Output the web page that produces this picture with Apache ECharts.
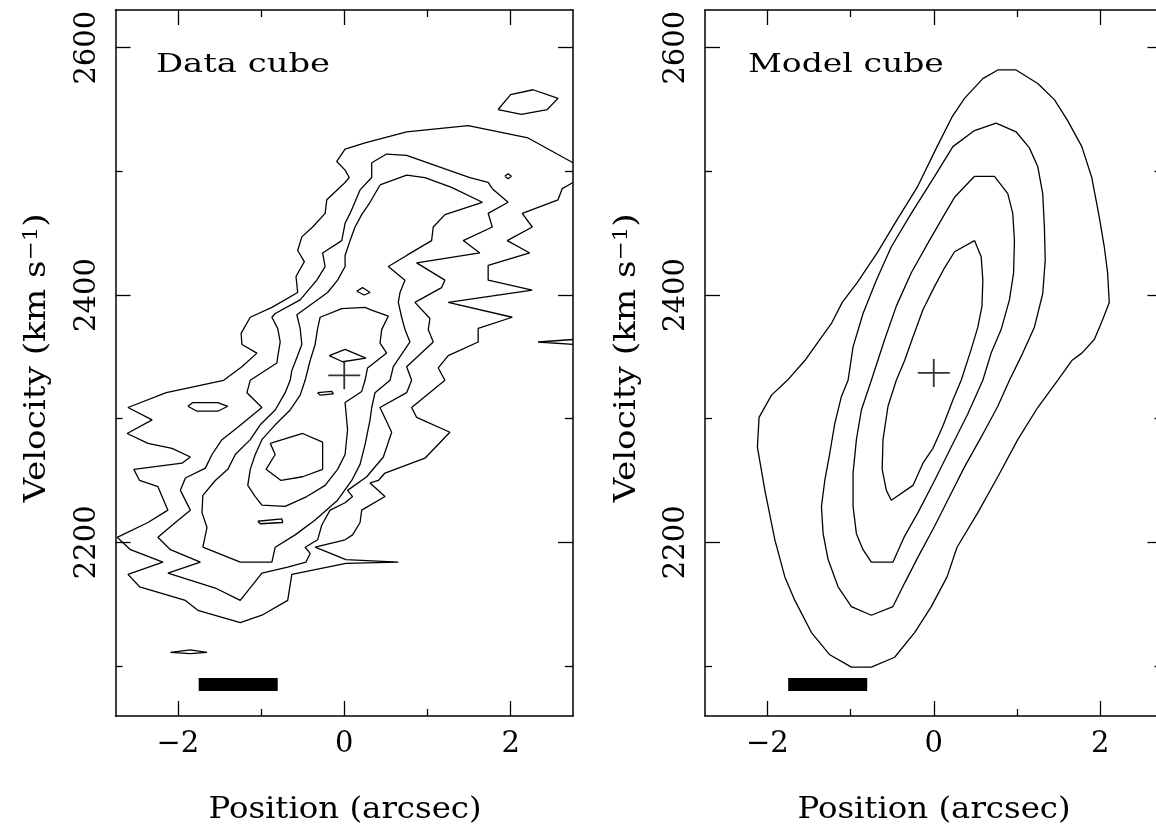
<!DOCTYPE html>
<html><head><meta charset="utf-8">
<script src="https://cdn.jsdelivr.net/npm/echarts@6/dist/echarts.min.js"></script>
<style>html,body{margin:0;padding:0;background:#fff}#c{width:1156px;height:829px}</style>
</head><body><div id="c"></div>
<script>
// ---------- axis ticks / labels ----------
const xTickMajor = [-2, 0, 2];
const xTickMinor = [-1, 1];
const yTickMajor = [2200, 2400, 2600];
const yTickMinor = [2100, 2300, 2500];
const panelTitles = ['Data cube', 'Model cube'];
const xTitle = 'Position (arcsec)';

// ---------- Data cube contours [position arcsec, velocity km/s] ----------
const dataLevel1 = [[2.75,2491],[2.62,2486],[2.57,2477],[2.14,2466],[2.26,2455],[1.96,2444],[2.23,2434],[1.73,2424],[1.73,2412],[2.26,2404],[1.25,2394],[2.02,2382],[1.61,2373],[1.61,2362],[1.25,2351],[1.13,2341],[1.21,2331],[0.81,2309],[0.87,2301],[1.27,2289],[0.97,2268],[0.49,2256],[0.41,2250],[0.31,2248],[0.49,2237],[0.21,2226],[0.19,2216],[0.10,2206],[0.01,2202],[-0.35,2196],[0.02,2186],[0.65,2184],[0.02,2183],[-0.63,2174],[-0.68,2153],[-0.99,2141],[-1.25,2135],[-1.76,2145],[-1.91,2153],[-2.46,2164],[-2.60,2174],[-2.18,2184],[-2.57,2194],[-2.73,2204],[-2.36,2216],[-2.12,2226],[-2.24,2245],[-2.46,2250],[-2.53,2259],[-1.95,2264],[-1.85,2269],[-2.07,2276],[-2.36,2280],[-2.61,2288],[-2.31,2299],[-2.60,2309],[-2.14,2321],[-1.45,2331],[-1.23,2342],[-1.05,2353],[-1.23,2360],[-1.24,2369],[-1.13,2382],[-0.87,2390],[-0.56,2402],[-0.58,2415],[-0.48,2427],[-0.56,2436],[-0.51,2447],[-0.38,2455],[-0.23,2466],[-0.21,2477],[0.01,2491],[0.06,2495],[0.01,2501],[-0.09,2508],[0.01,2518],[0.25,2523],[0.75,2532],[1.49,2537],[2.21,2527],[2.75,2507]];
const dataLevel1Top = [[1.85,2550],[2.00,2562],[2.27,2566],[2.57,2559],[2.44,2550],[2.13,2546],[1.85,2550]];
const dataLevel1Dot = [[1.93,2496],[1.97,2498],[2.01,2496],[1.97,2494],[1.93,2496]];
const dataLevel1Edge = [[2.75,2364],[2.33,2362],[2.75,2360]];
const dataLevel1Low = [[-2.09,2111],[-1.85,2113],[-1.65,2111],[-1.85,2110],[-2.09,2111]];
const dataLevel2 = [[0.33,2507],[0.51,2514],[0.75,2513],[1.21,2502],[1.51,2495],[1.73,2491],[1.78,2486],[1.97,2475],[1.73,2466],[1.78,2455],[1.43,2444],[1.63,2434],[0.87,2426],[1.21,2412],[1.17,2406],[0.85,2394],[1.03,2381],[1.01,2372],[1.07,2362],[0.75,2342],[0.81,2331],[0.75,2321],[0.43,2309],[0.57,2289],[0.47,2269],[0.27,2253],[0.04,2242],[0.10,2237],[0.01,2232],[-0.17,2226],[-0.27,2214],[-0.32,2202],[-0.47,2196],[-0.41,2191],[-0.46,2184],[-0.68,2180],[-0.99,2175],[-1.25,2153],[-1.55,2163],[-2.12,2175],[-1.73,2184],[-2.09,2194],[-2.24,2204],[-2.03,2216],[-1.85,2226],[-1.97,2242],[-1.91,2252],[-1.67,2260],[-1.59,2271],[-1.47,2283],[-1.28,2293],[-0.99,2309],[-1.17,2321],[-1.13,2331],[-0.81,2345],[-0.80,2350],[-0.77,2362],[-0.80,2373],[-0.87,2382],[-0.83,2385],[-0.53,2396],[-0.33,2412],[-0.23,2423],[-0.26,2434],[-0.03,2444],[0.01,2458],[0.07,2466],[0.19,2485],[0.33,2495],[0.33,2507]];
const dataLevel2Island = [[-1.88,2310],[-1.82,2313],[-1.52,2313],[-1.40,2310],[-1.52,2306],[-1.77,2306],[-1.88,2310]];
const dataLevel3 = [[0.43,2489],[0.75,2497],[0.97,2495],[1.29,2487],[1.66,2475],[1.21,2465],[1.07,2455],[1.05,2444],[0.75,2432],[0.53,2423],[0.73,2412],[0.67,2402],[0.65,2394],[0.69,2382],[0.73,2372],[0.79,2362],[0.59,2342],[0.55,2331],[0.37,2321],[0.33,2309],[0.31,2299],[0.25,2279],[0.19,2263],[0.09,2250],[-0.08,2234],[-0.35,2218],[-0.59,2206],[-0.83,2196],[-0.87,2184],[-1.25,2184],[-1.70,2196],[-1.65,2212],[-1.71,2224],[-1.70,2238],[-1.55,2250],[-1.40,2259],[-1.31,2271],[-1.13,2283],[-1.01,2295],[-0.83,2307],[-0.71,2321],[-0.65,2331],[-0.63,2339],[-0.56,2351],[-0.51,2360],[-0.53,2373],[-0.57,2384],[-0.20,2402],[-0.08,2412],[0.01,2423],[0.01,2432],[0.07,2444],[0.13,2455],[0.21,2465],[0.31,2475],[0.43,2489]];
const dataLevel4 = [[-0.29,2382],[-0.03,2389],[0.25,2390],[0.32,2388],[0.53,2383],[0.45,2372],[0.43,2361],[0.51,2353],[0.28,2341],[0.25,2331],[0.21,2322],[0.01,2313],[0.04,2291],[0.01,2271],[-0.08,2259],[-0.23,2246],[-0.45,2237],[-0.71,2229],[-0.99,2230],[-1.07,2237],[-1.16,2246],[-1.13,2259],[-1.07,2271],[-0.99,2283],[-0.83,2295],[-0.65,2307],[-0.53,2319],[-0.47,2331],[-0.41,2347],[-0.35,2360],[-0.32,2373],[-0.29,2382]];
const dataLevel4Upper = [[0.15,2403],[0.22,2406],[0.31,2402],[0.24,2400],[0.15,2403]];
const dataLevel4Lower = [[-1.04,2217],[-0.75,2219],[-0.74,2216],[-1.01,2215],[-1.04,2217]];
const dataLevel5Diamond = [[-0.18,2351],[0.01,2356],[0.26,2349],[-0.02,2346],[-0.18,2351]];
const dataLevel5Small = [[-0.32,2321],[-0.15,2322],[-0.13,2320],[-0.29,2319],[-0.32,2321]];
const dataLevel5Hex = [[-0.89,2280],[-0.50,2288],[-0.26,2281],[-0.26,2259],[-0.50,2253],[-0.76,2250],[-0.94,2259],[-0.83,2271],[-0.89,2280]];

// ---------- Model cube contours ----------
const modelLevel1 = [[-1.76,2331],[-1.55,2347],[-1.37,2364],[-1.23,2377],[-1.10,2394],[-0.92,2410],[-0.68,2434],[-0.44,2461],[-0.20,2487],[0.04,2520],[0.22,2544],[0.37,2559],[0.59,2575],[0.77,2582],[0.99,2582],[1.25,2571],[1.45,2558],[1.61,2541],[1.78,2520],[1.90,2495],[1.99,2463],[2.05,2439],[2.09,2418],[2.11,2394],[2.03,2380],[1.93,2364],[1.78,2353],[1.66,2347],[1.49,2331],[1.25,2309],[1.01,2283],[0.77,2253],[0.53,2224],[0.28,2196],[0.16,2172],[-0.03,2148],[-0.23,2127],[-0.47,2107],[-0.75,2099],[-0.99,2099],[-1.25,2109],[-1.47,2127],[-1.67,2153],[-1.79,2172],[-1.91,2202],[-2.03,2242],[-2.12,2277],[-2.10,2301],[-1.95,2319],[-1.76,2331]];
const modelLevel2 = [[0.75,2539],[0.99,2532],[1.15,2519],[1.25,2504],[1.31,2482],[1.33,2455],[1.34,2428],[1.31,2401],[1.21,2374],[1.07,2353],[0.91,2331],[0.77,2310],[0.57,2285],[0.37,2261],[0.19,2237],[0.01,2213],[-0.19,2188],[-0.35,2167],[-0.49,2148],[-0.75,2141],[-0.99,2148],[-1.15,2164],[-1.27,2186],[-1.33,2207],[-1.35,2229],[-1.31,2250],[-1.25,2272],[-1.19,2296],[-1.11,2318],[-1.03,2331],[-0.97,2358],[-0.85,2385],[-0.69,2412],[-0.51,2439],[-0.27,2466],[0.01,2496],[0.23,2520],[0.49,2533],[0.75,2539]];
const modelLevel3 = [[0.49,2496],[0.73,2496],[0.89,2482],[0.95,2466],[0.97,2444],[0.96,2418],[0.91,2396],[0.81,2372],[0.69,2353],[0.59,2331],[0.41,2304],[0.21,2277],[0.01,2250],[-0.19,2224],[-0.35,2205],[-0.49,2184],[-0.75,2184],[-0.85,2194],[-0.93,2207],[-0.97,2229],[-0.97,2256],[-0.93,2283],[-0.87,2307],[-0.75,2331],[-0.59,2364],[-0.45,2391],[-0.27,2418],[-0.07,2442],[0.11,2463],[0.25,2479],[0.49,2496]];
const modelLevel4 = [[0.49,2444],[0.57,2431],[0.59,2412],[0.58,2391],[0.53,2374],[0.45,2356],[0.33,2331],[0.23,2315],[0.11,2294],[-0.01,2276],[-0.13,2264],[-0.25,2246],[-0.51,2234],[-0.57,2242],[-0.62,2259],[-0.61,2283],[-0.55,2310],[-0.45,2331],[-0.35,2347],[-0.25,2366],[-0.13,2388],[0.01,2407],[0.13,2422],[0.25,2435],[0.49,2444]];

// ---------- markers ----------
const beamBar = [[-1.75, 2085], [-0.80, 2085]];
const dataCentre = [[0, 2335]];
const modelCentre = [[0, 2337]];

const FONT = 'DejaVu Serif';
const INK = '#000';

function xAxes(g) {
  const base = {type: 'value', gridIndex: g, min: -2.75, max: 2.75, splitLine: {show: false},
    axisLine: {show: true, onZero: false, lineStyle: {color: INK, width: 1.5}}};
  const fmt = v => v < 0 ? '\u2212' + Math.abs(v) : String(v);
  return [
    Object.assign({}, base, {position: 'bottom',
      axisTick: {show: true, inside: true, length: 15, customValues: xTickMajor, lineStyle: {color: INK, width: 1.3}},
      axisLabel: {show: true, customValues: xTickMajor, formatter: fmt, margin: 14, color: INK, fontFamily: FONT, fontSize: 29}}),
    Object.assign({}, base, {position: 'top',
      axisTick: {show: true, inside: true, length: 15, customValues: xTickMajor, lineStyle: {color: INK, width: 1.3}},
      axisLabel: {show: false}}),
    Object.assign({}, base, {position: 'bottom', axisLine: {show: false, onZero: false},
      axisTick: {show: true, inside: true, length: 7, customValues: xTickMinor, lineStyle: {color: INK, width: 1.3}},
      axisLabel: {show: false}}),
    Object.assign({}, base, {position: 'top', axisLine: {show: false, onZero: false},
      axisTick: {show: true, inside: true, length: 7, customValues: xTickMinor, lineStyle: {color: INK, width: 1.3}},
      axisLabel: {show: false}})
  ];
}
function yAxes(g) {
  const base = {type: 'value', gridIndex: g, min: 2059.5, max: 2630.5, splitLine: {show: false},
    axisLine: {show: true, onZero: false, lineStyle: {color: INK, width: 1.5}}};
  return [
    Object.assign({}, base, {position: 'left',
      axisTick: {show: true, inside: true, length: 15, customValues: yTickMajor, lineStyle: {color: INK, width: 1.3}},
      axisLabel: {show: true, customValues: yTickMajor, formatter: v => String(v), rotate: 90, margin: 14,
        color: INK, fontFamily: FONT, fontSize: 29}}),
    Object.assign({}, base, {position: 'right',
      axisTick: {show: true, inside: true, length: 15, customValues: yTickMajor, lineStyle: {color: INK, width: 1.3}},
      axisLabel: {show: false}}),
    Object.assign({}, base, {position: 'left', axisLine: {show: false, onZero: false},
      axisTick: {show: true, inside: true, length: 7, customValues: yTickMinor, lineStyle: {color: INK, width: 1.3}},
      axisLabel: {show: false}}),
    Object.assign({}, base, {position: 'right', axisLine: {show: false, onZero: false},
      axisTick: {show: true, inside: true, length: 8, customValues: yTickMinor, lineStyle: {color: INK, width: 1.3}},
      axisLabel: {show: false}})
  ];
}
function contour(data, g) {
  return {type: 'line', xAxisIndex: g * 4, yAxisIndex: g * 4, data: data, symbol: 'none', showSymbol: false,
    smooth: false, silent: true, clip: true, lineStyle: {color: INK, width: 1.3}, z: 3};
}
function bar(g) {
  return {type: 'line', xAxisIndex: g * 4, yAxisIndex: g * 4, data: beamBar, symbol: 'none', silent: true,
    lineStyle: {color: INK, width: 13, cap: 'butt'}, z: 4};
}
function cross(data, g) {
  return {type: 'scatter', xAxisIndex: g * 4, yAxisIndex: g * 4, data: data, silent: true,
    symbol: 'path://M0,14L32,14M16,0L16,28', symbolSize: [32, 28],
    itemStyle: {color: 'rgba(0,0,0,0)', borderColor: INK, borderWidth: 1.7}, z: 5};
}
function yTitle(x) {
  return {type: 'text', x: x, y: 358, rotation: Math.PI / 2, scaleX: 1.14, z: 10,
    style: {text: 'Velocity (km s{sup|\u22121})', fill: INK, fontFamily: FONT, fontSize: 30,
      align: 'center', verticalAlign: 'middle', textAlign: 'center', textVerticalAlign: 'middle',
      rich: {sup: {fontFamily: FONT, fontSize: 20, fill: INK, verticalAlign: 'top', padding: [0, 0, 8, 0]}}}};
}
function label(text, x, y, size, sx, align) {
  return {type: 'text', x: x, y: y, scaleX: sx, z: 10,
    style: {text: text, fill: INK, fontFamily: FONT, fontSize: size, align: align, verticalAlign: 'middle',
      textAlign: align, textVerticalAlign: 'middle'}};
}

const dataSet = [dataLevel1, dataLevel1Top, dataLevel1Dot, dataLevel1Edge, dataLevel1Low, dataLevel2, dataLevel2Island,
  dataLevel3, dataLevel4, dataLevel4Upper, dataLevel4Lower, dataLevel5Diamond, dataLevel5Small, dataLevel5Hex];
const modelSet = [modelLevel1, modelLevel2, modelLevel3, modelLevel4];

const series = [];
dataSet.forEach(d => series.push(contour(d, 0)));
modelSet.forEach(d => series.push(contour(d, 1)));
series.push(bar(0), bar(1), cross(dataCentre, 0), cross(modelCentre, 1));

const chart = echarts.init(document.getElementById('c'), null, {renderer: 'canvas'});
chart.setOption({
  animation: false,
  backgroundColor: '#fff',
  grid: [
    {left: 115.5, top: 10, width: 457.5, height: 706, containLabel: false, outerBoundsMode: 'none'},
    {left: 705, top: 10, width: 457.5, height: 706, containLabel: false, outerBoundsMode: 'none'}
  ],
  xAxis: xAxes(0).concat(xAxes(1)),
  yAxis: yAxes(0).concat(yAxes(1)),
  series: series,
  graphic: [
    label(panelTitles[0], 156, 65, 26, 1.3, 'left'),
    label(panelTitles[1], 748, 65, 26, 1.27, 'left'),
    label(xTitle, 345, 810, 30, 1.08, 'center'),
    label(xTitle, 934, 810, 30, 1.08, 'center'),
    yTitle(37),
    yTitle(627)
  ]
});
</script></body></html>
